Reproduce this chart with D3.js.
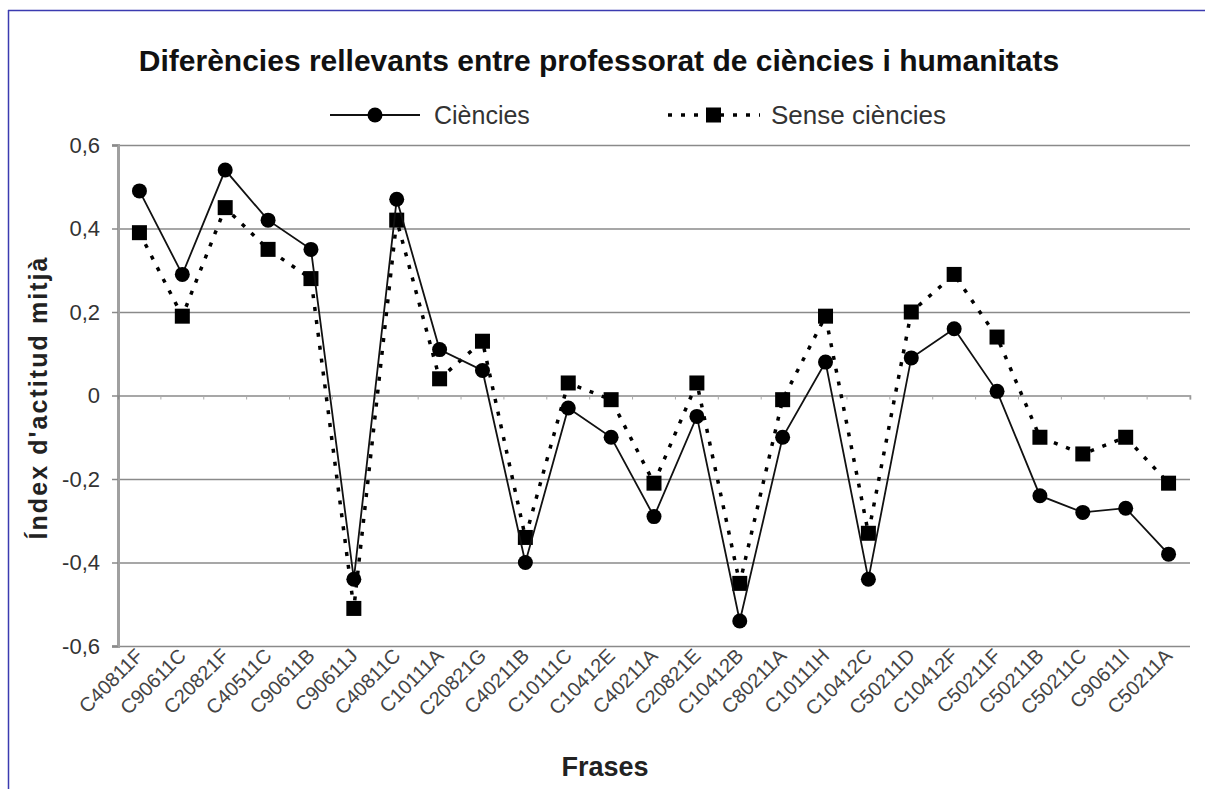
<!DOCTYPE html>
<html>
<head>
<meta charset="utf-8">
<script src="https://cdn.jsdelivr.net/npm/d3@7"></script>
<style>
  body { margin: 0; background: #fff; }
  svg { font-family: "Liberation Sans", Arial, sans-serif; }
</style>
</head>
<body>
<svg id="chart" width="1205" height="789"></svg>
<script>
// categories (frases)
let frases = ["C40811F", "C90611C", "C20821F", "C40511C", "C90611B", "C90611J", "C40811C",
  "C10111A", "C20821G", "C40211B", "C10111C", "C10412E", "C40211A", "C20821E", "C10412B",
  "C80211A", "C10111H", "C10412C", "C50211D", "C10412F", "C50211F", "C50211B", "C50211C",
  "C90611I", "C50211A"];

// series values
let ciencies = [0.49, 0.29, 0.54, 0.42, 0.35, -0.44, 0.47, 0.11, 0.06, -0.40, -0.03, -0.10,
  -0.29, -0.05, -0.54, -0.10, 0.08, -0.44, 0.09, 0.16, 0.01, -0.24, -0.28, -0.27, -0.38];
let senseCiencies = [0.39, 0.19, 0.45, 0.35, 0.28, -0.51, 0.42, 0.04, 0.13, -0.34, 0.03, -0.01,
  -0.21, 0.03, -0.45, -0.01, 0.19, -0.33, 0.20, 0.29, 0.14, -0.10, -0.14, -0.10, -0.21];

// y ticks
let yTicks = [-0.6, -0.4, -0.2, 0, 0.2, 0.4, 0.6];

/******************/

let margin = {top: 145, right: 15, bottom: 143, left: 118};
let width = 1205 - margin.left - margin.right;
let height = 789 - margin.top - margin.bottom;

let svg = d3.select("#chart");

// blue frame (top and left)
svg.append("line").attr("x1", 8).attr("x2", 1205).attr("y1", 10.5).attr("y2", 10.5)
  .attr("stroke", "#3b3bb0").attr("stroke-width", 1.5);
svg.append("line").attr("x1", 8.5).attr("x2", 8.5).attr("y1", 10).attr("y2", 789)
  .attr("stroke", "#3b3bb0").attr("stroke-width", 1.5);

let xScale = d3.scaleBand()
  .domain(frases)
  .range([0, width]);

let yScale = d3.scaleLinear()
  .domain([-0.6, 0.6])
  .range([height, 0]);

let parent = svg.append("g")
  .attr("transform", `translate(${margin.left}, ${margin.top})`);

// gridlines
let grid = d3.axisLeft(yScale).tickValues(yTicks.filter(d => d !== 0))
  .tickSize(-width).tickFormat("");
parent.append("g").attr("class", "grid").call(grid)
  .call(g => g.select(".domain").remove())
  .call(g => g.selectAll("line").attr("stroke", "#8a8a8a").attr("stroke-width", 1.5));

// y axis
let fmt = d => d === 0 ? "0" : d3.format(".1f")(d).replace(".", ",").replace("−", "-");
let yAxis = d3.axisLeft(yScale).tickValues(yTicks).tickSize(6).tickPadding(12).tickFormat(fmt);
parent.append("g").attr("class", "y-axis").call(yAxis)
  .call(g => g.select(".domain").attr("stroke", "#a0a0a0").attr("stroke-width", 3))
  .call(g => g.selectAll("line").attr("stroke", "#8a8a8a").attr("stroke-width", 1.5))
  .call(g => g.selectAll("text").attr("font-size", 22).attr("fill", "#333"));

// x axis on zero line
let xAxis = d3.axisBottom(xScale).tickSize(4).tickFormat("");
parent.append("g").attr("class", "x-axis")
  .attr("transform", `translate(0, ${yScale(0)})`)
  .call(xAxis)
  .call(g => g.select(".domain").attr("stroke", "#8a8a8a").attr("stroke-width", 1.5))
  .call(g => g.selectAll(".tick line").attr("stroke", "#aaa")
    .attr("transform", `translate(${xScale.bandwidth() / 2}, 0)`));

// x tick labels, rotated
parent.append("g").attr("class", "x-labels")
  .selectAll("text")
  .data(frases)
  .enter().append("text")
    .attr("transform", d => `translate(${xScale(d) + xScale.bandwidth() / 2 + 5}, ${height + 11}) rotate(-45)`)
    .attr("text-anchor", "end")
    .attr("font-size", 20)
    .attr("fill", "#444")
    .text(d => d);

let cx = (d, i) => xScale(frases[i]) + xScale.bandwidth() / 2;

// Sense ciències (dotted, squares)
let line = d3.line().x((d, i) => cx(d, i)).y(d => yScale(d));
parent.append("path")
  .datum(senseCiencies)
  .attr("d", line)
  .attr("fill", "none")
  .attr("stroke", "#000")
  .attr("stroke-width", 3.5)
  .attr("stroke-dasharray", "4,9");
parent.selectAll(".sq")
  .data(senseCiencies)
  .enter().append("rect")
    .attr("class", "sq")
    .attr("x", (d, i) => cx(d, i) - 7.5)
    .attr("y", d => yScale(d) - 7.5)
    .attr("width", 15).attr("height", 15)
    .attr("fill", "#000");

// Ciències (solid, circles)
parent.append("path")
  .datum(ciencies)
  .attr("d", line)
  .attr("fill", "none")
  .attr("stroke", "#111")
  .attr("stroke-width", 1.8);
parent.selectAll(".dot")
  .data(ciencies)
  .enter().append("circle")
    .attr("class", "dot")
    .attr("cx", (d, i) => cx(d, i))
    .attr("cy", d => yScale(d))
    .attr("r", 7.5)
    .attr("fill", "#000");

// title
svg.append("text")
  .attr("x", 599).attr("y", 71)
  .attr("text-anchor", "middle")
  .attr("font-size", 30).attr("font-weight", "bold")
  .attr("fill", "#111")
  .text("Diferències rellevants entre professorat de ciències i humanitats");

// legend
let legend = svg.append("g");
legend.append("line").attr("x1", 330).attr("x2", 420).attr("y1", 115).attr("y2", 115)
  .attr("stroke", "#111").attr("stroke-width", 1.8);
legend.append("circle").attr("cx", 375).attr("cy", 115).attr("r", 7.5).attr("fill", "#000");
legend.append("text").attr("x", 434).attr("y", 124).attr("font-size", 25).attr("fill", "#333")
  .text("Ciències");
legend.append("line").attr("x1", 668).attr("x2", 760).attr("y1", 115).attr("y2", 115)
  .attr("stroke", "#000").attr("stroke-width", 3.5).attr("stroke-dasharray", "4,9");
legend.append("rect").attr("x", 706).attr("y", 107.5).attr("width", 15).attr("height", 15)
  .attr("fill", "#000");
legend.append("text").attr("x", 771).attr("y", 124).attr("font-size", 26).attr("fill", "#333")
  .text("Sense ciències");

// axis titles
svg.append("text")
  .attr("transform", `translate(47, ${margin.top + yScale(0) + 3}) rotate(-90)`)
  .attr("text-anchor", "middle")
  .attr("font-size", 25).attr("font-weight", "bold").attr("fill", "#222")
  .attr("textLength", 282).attr("lengthAdjust", "spacing")
  .text("Índex d'actitud mitjà");

svg.append("text")
  .attr("x", 605).attr("y", 776)
  .attr("text-anchor", "middle")
  .attr("font-size", 27).attr("font-weight", "bold").attr("fill", "#222")
  .text("Frases");
</script>
</body>
</html>
